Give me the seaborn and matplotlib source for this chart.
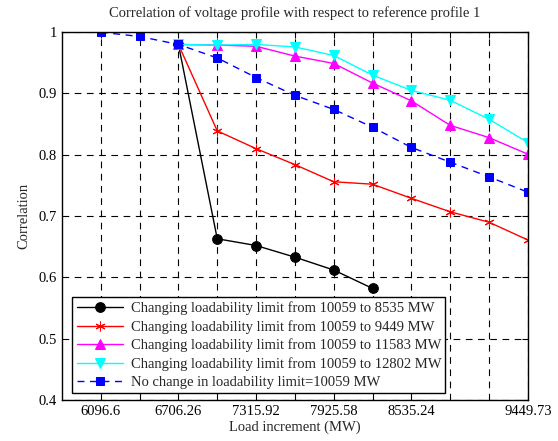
import numpy as np
import pandas as pd
import matplotlib
matplotlib.use("Agg")
import matplotlib.pyplot as plt
import seaborn as sns

load = [6096.6, 6401.43, 6706.26, 7011.09, 7315.92, 7620.75, 7925.58,
        8230.41, 8535.24, 8840.07, 9144.9, 9449.73]
tick_labels = ["6096.6", "", "6706.26", "", "7315.92", "", "7925.58",
               "", "8535.24", "", "", "9449.73"]

black_x = load[2:8]
black_y = [0.98, 0.663, 0.652, 0.633, 0.612, 0.582]
red_x = load[2:]
red_y = [0.98, 0.839, 0.810, 0.784, 0.756, 0.752, 0.729, 0.707, 0.690, 0.661]
mag_x = load[2:]
mag_y = [0.98, 0.979, 0.977, 0.961, 0.949, 0.917, 0.888, 0.848, 0.828, 0.801]
cyan_x = load[2:]
cyan_y = [0.98, 0.979, 0.980, 0.976, 0.962, 0.930, 0.905, 0.889, 0.858, 0.820]
blue_x = load
blue_y = [1.0, 0.993, 0.980, 0.958, 0.926, 0.897, 0.874, 0.845, 0.812,
          0.788, 0.764, 0.739]

labels = ["Changing loadability limit from 10059 to 8535 MW",
          "Changing loadability limit from 10059 to 9449 MW",
          "Changing loadability limit from 10059 to 11583 MW",
          "Changing loadability limit from 10059 to 12802 MW",
          "No change in loadability limit=10059 MW"]

sns.set_style("white")
plt.rcParams['font.family'] = ['Liberation Serif', 'DejaVu Serif']

fig = plt.figure(figsize=(5.58, 4.41), dpi=100)
ax = fig.add_axes([0.111, 0.093, 0.835, 0.834])

series = [
    (black_x, black_y, 'black', 'o', '-', 7),
    (red_x, red_y, 'red', (6, 2, 0), '-', 7),
    (mag_x, mag_y, 'magenta', '^', '-', 7),
    (cyan_x, cyan_y, 'cyan', 'v', '-', 7),
    (blue_x, blue_y, 'blue', 's', '--', 6),
]
handles = []
for (xs, ys, c, m, ls, ms), lab in zip(series, labels):
    df = pd.DataFrame({"x": xs, "y": ys})
    sns.lineplot(data=df, x="x", y="y", ax=ax, color=c, marker=m,
                 markersize=ms, linewidth=1,
                 markeredgecolor=c, markerfacecolor=c, label=lab)
    line = ax.lines[-1]
    if ls == '--':
        line.set_linestyle('--')
        line.set_dashes([5, 4])
    handles.append(line)

ax.set_xlim(5791.77, 9449.73)
ax.set_ylim(0.4, 1.0)
ax.set_xticks(load)
ax.set_xticklabels(tick_labels)
yt = [0.4, 0.5, 0.6, 0.7, 0.8, 0.9, 1.0]
ax.set_yticks(yt)
ax.set_yticklabels(["0.4", "0.5", "0.6", "0.7", "0.8", "0.9", "1"])
ax.tick_params(direction='in', top=True, right=True, length=4, width=0.8,
               labelsize=10.5, colors='black')
ax.grid(True, color='black', linestyle=(0, (6, 5)), linewidth=0.8)
for s in ax.spines.values():
    s.set_color('black')
    s.set_linewidth(1.0)
ax.set_xlabel("Load increment (MW)", fontsize=10.5, labelpad=2)
ax.set_ylabel("Correlation", fontsize=10.5, labelpad=6)
ax.set_title("Correlation of voltage profile with respect to reference profile 1",
             fontsize=10.5, pad=11)

leg = ax.legend(handles=handles, labels=labels, loc='lower left',
                bbox_to_anchor=(0.022, 0.018), fontsize=10.5, frameon=True,
                fancybox=False, edgecolor='black', framealpha=1,
                handlelength=3.2, borderpad=0.3, labelspacing=0.33,
                handletextpad=0.5, borderaxespad=0)
leg.get_frame().set_linewidth(1.0)

fig.savefig("out.png", dpi=100)
